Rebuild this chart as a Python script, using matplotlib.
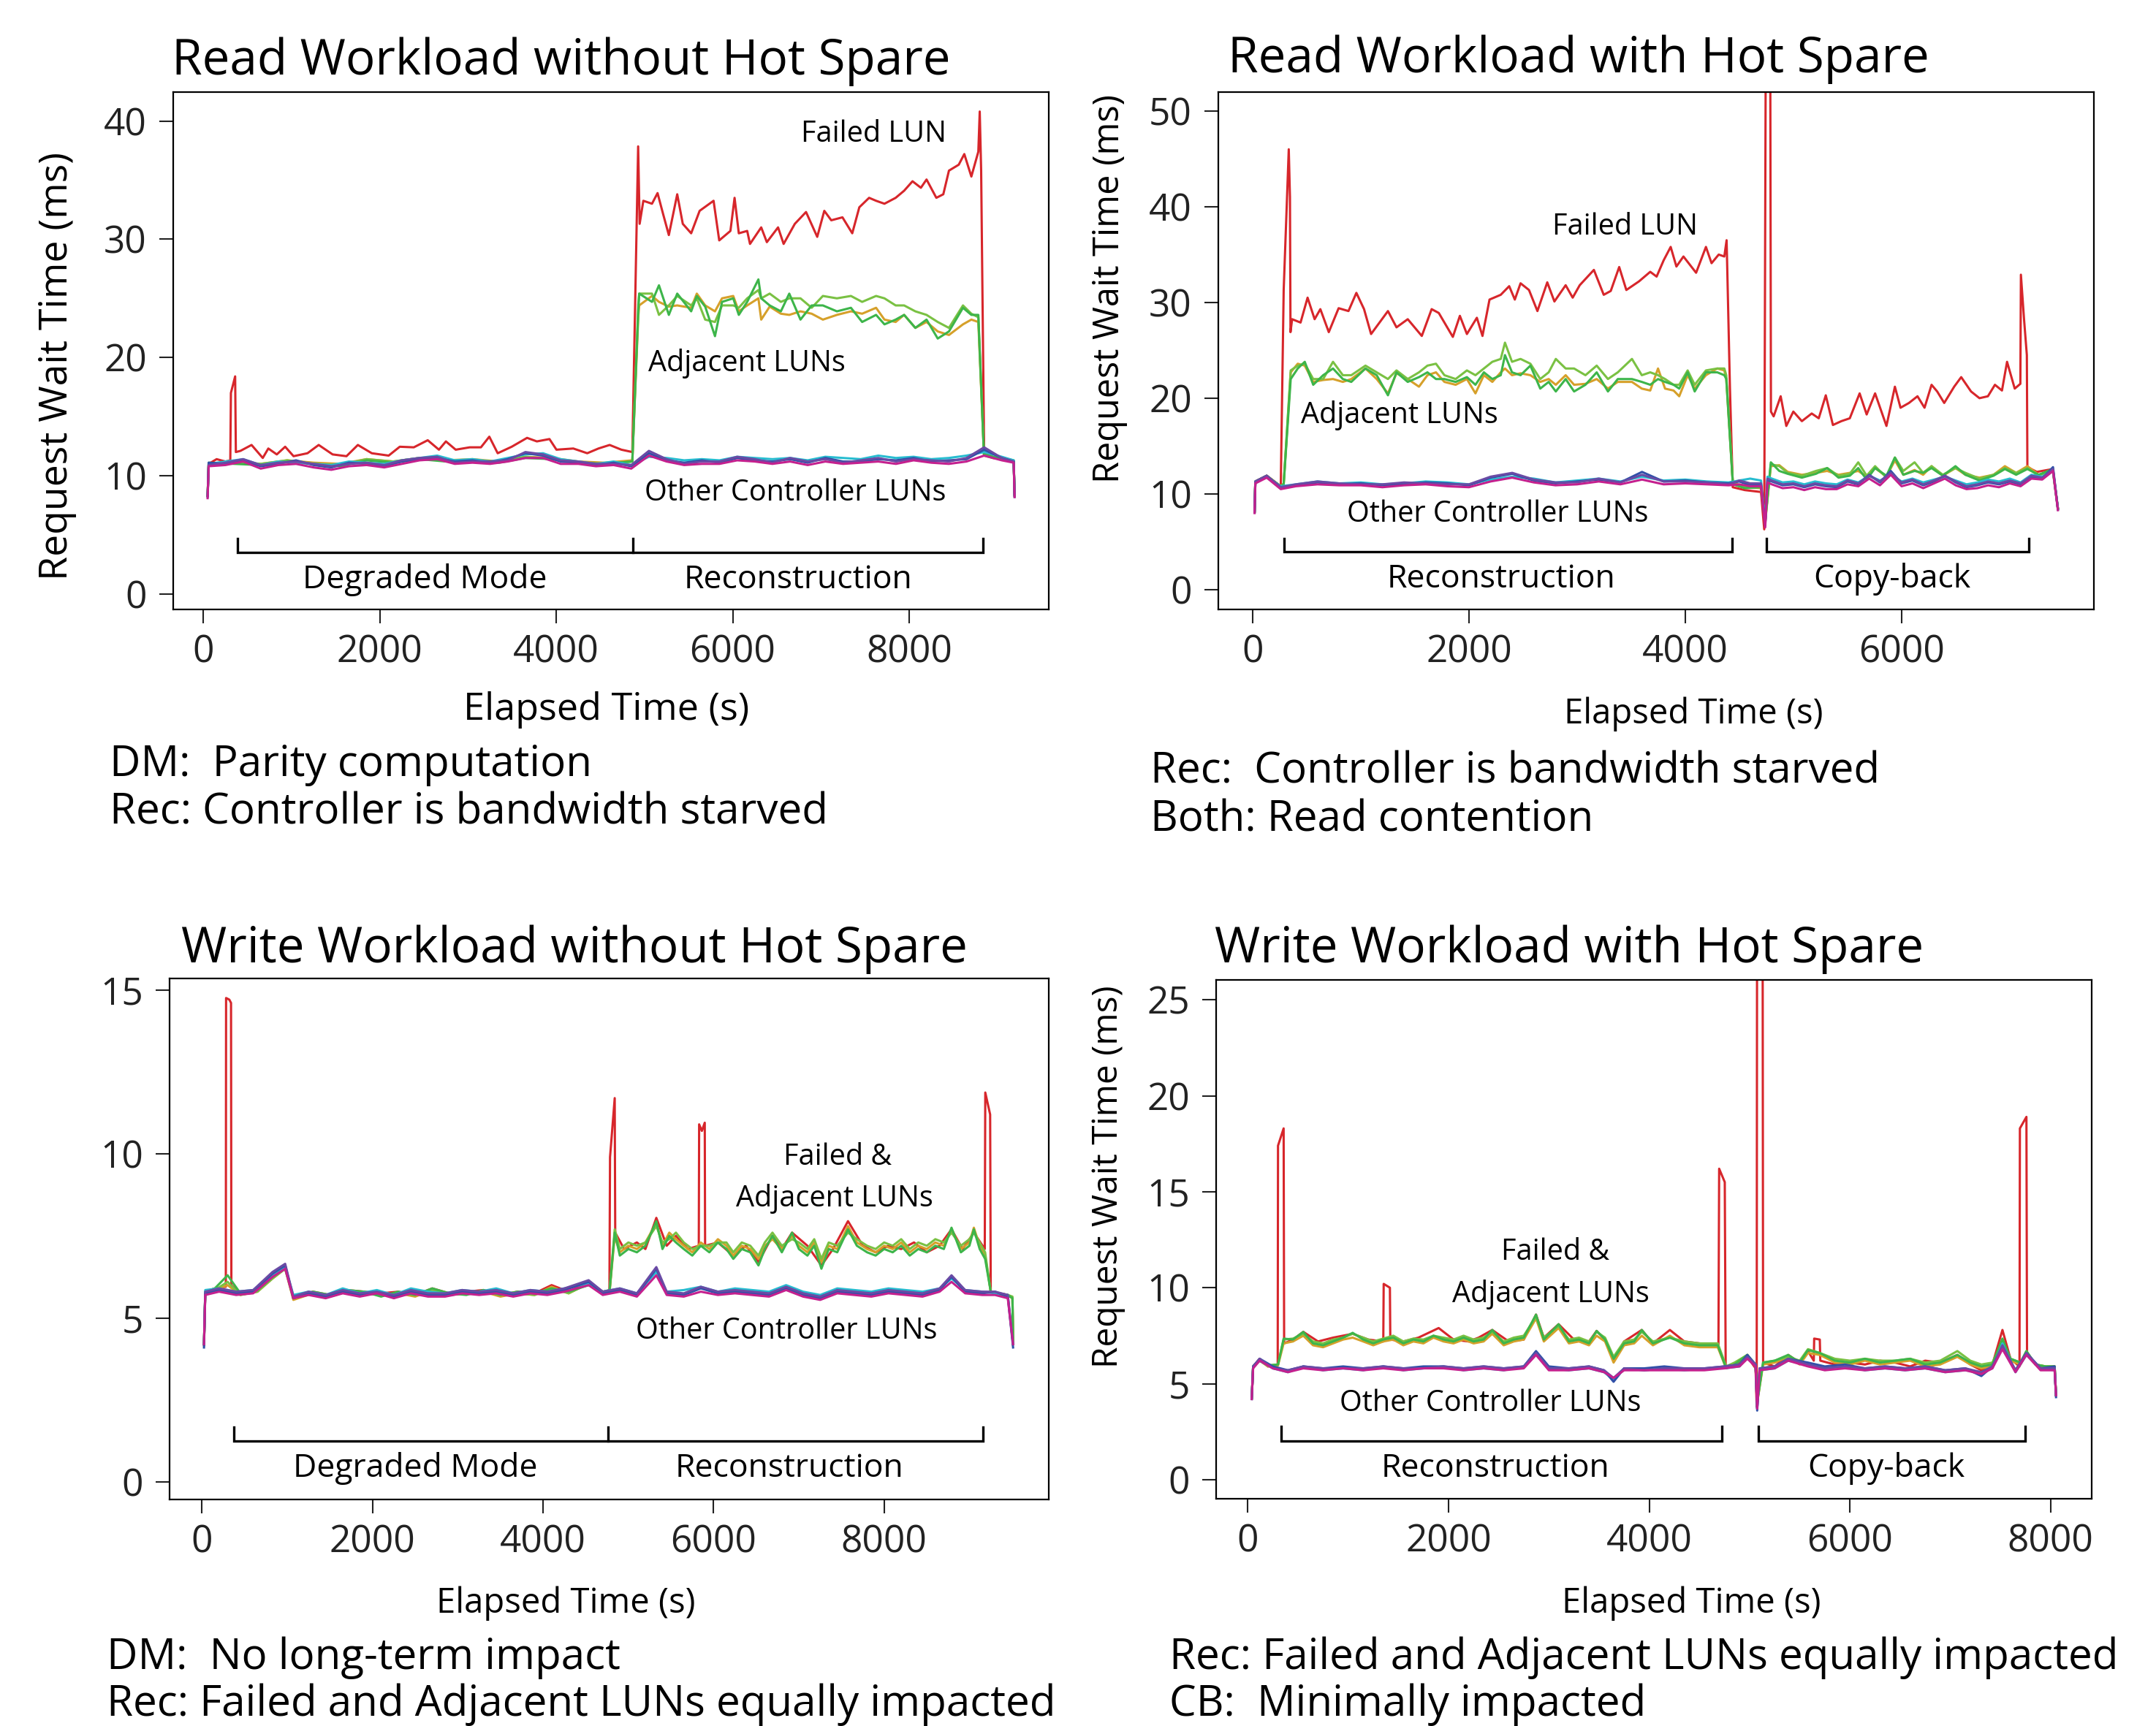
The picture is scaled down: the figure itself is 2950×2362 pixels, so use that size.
import matplotlib
matplotlib.use('Agg')
import matplotlib.pyplot as plt

plt.rcParams['font.family'] = ['Open Sans', 'DejaVu Sans']

# line colours (failed LUN, adjacent LUNs, other controller LUNs)
RED = '#d7262b'
ORANGE = '#d6a02a'
LGREEN = '#7ac143'
GREEN = '#3db54a'
CYAN = '#27bcd0'
BLUE = '#3150a8'
PURPLE = '#6a4aa5'
MAGENTA = '#c4208e'
LW = 2.2

W, H = 2950, 2362

# ---------------- Read workload without hot spare ----------------
t_fail_a = [48, 60, 150, 250, 305, 312, 360, 368, 420, 546,
            673, 736, 832, 927, 1022, 1180, 1307, 1465, 1622, 1751,
            1909, 2100, 2226, 2385, 2543, 2670, 2749, 2860, 3019, 3146,
            3241, 3336, 3495, 3669, 3780, 3923, 4002, 4193, 4351, 4478,
            4605, 4738, 4862, 4928, 4945, 4987, 5085, 5148, 5212, 5276,
            5371, 5434, 5529, 5625, 5783, 5847, 5974, 6021, 6069, 6164,
            6196, 6323, 6387, 6514, 6577, 6704, 6831, 6958, 7038, 7117,
            7244, 7355, 7435, 7546, 7625, 7720, 7847, 7943, 8038, 8133,
            8197, 8308, 8387, 8451, 8562, 8625, 8705, 8784, 8800, 8816,
            8850, 8950, 9050, 9185, 9195]
fail_a = [8.3, 11.0, 11.4, 11.2, 11.3, 17.0, 18.4, 12.0, 12.1, 12.6,
          11.5, 12.3, 11.8, 12.45, 11.65, 11.9, 12.6, 11.8, 11.65, 12.6,
          11.9, 11.7, 12.45, 12.4, 13.0, 12.2, 12.9, 12.2, 12.4, 12.4,
          13.3, 11.9, 12.45, 13.2, 12.9, 13.1, 12.2, 12.3, 11.9, 12.3,
          12.6, 12.2, 12.0, 37.85, 31.3, 33.25, 33.0, 33.9, 32.1, 30.35,
          33.8, 31.3, 30.5, 32.4, 33.25, 29.9, 30.7, 33.5, 30.5, 30.7,
          29.6, 31.0, 29.75, 31.0, 29.6, 31.3, 32.3, 30.2, 32.4, 31.6,
          31.85, 30.5, 32.7, 33.5, 33.25, 33.0, 33.5, 34.1, 34.9, 34.35,
          35.05, 33.5, 33.8, 35.8, 36.3, 37.2, 35.3, 37.4, 40.8, 35.8,
          12.0, 11.6, 11.4, 11.2, 8.4]

t_adj_a = [48, 60, 350, 650, 950, 1250, 1550, 1850, 2150, 2450,
           2750, 3050, 3350, 3650, 3950, 4250, 4550, 4862, 4930, 4940,
           5085, 5164, 5276, 5371, 5529, 5593, 5688, 5799, 5879, 6006,
           6069, 6164, 6291, 6323, 6419, 6546, 6641, 6768, 6895, 7022,
           7181, 7340, 7467, 7625, 7720, 7847, 7943, 8070, 8197, 8324,
           8451, 8610, 8705, 8784, 8848, 8950, 9050, 9185, 9195]
adj_orange_a = [8.3, 11.0, 11.2, 11.0, 11.3, 11.1, 11.0, 11.4, 11.2, 11.5,
                11.3, 11.4, 11.2, 11.6, 11.5, 11.2, 11.1, 11.3, 23.5, 24.4,
                25.2, 24.7, 24.3, 24.4, 24.2, 25.4, 24.4, 23.9, 25.0, 25.2,
                23.9, 24.4, 25.0, 23.2, 24.3, 23.7, 23.6, 23.9, 23.7, 23.2,
                23.6, 23.9, 23.7, 24.2, 23.2, 23.0, 23.6, 22.5, 23.0, 22.2,
                21.9, 22.8, 23.2, 23.0, 11.8, 11.5, 11.4, 11.2, 8.4]
adj_lgreen_a = [8.3, 11.0, 11.1, 11.0, 11.3, 11.0, 10.9, 11.4, 11.2, 11.5,
                11.3, 11.3, 11.2, 11.6, 11.4, 11.1, 11.0, 11.2, 24.5, 25.4,
                25.4, 23.6, 24.4, 25.2, 24.4, 25.0, 23.2, 23.0, 24.4, 24.4,
                24.2, 25.0, 25.7, 25.0, 25.4, 24.7, 25.0, 25.0, 24.2, 25.2,
                25.0, 25.2, 24.7, 25.2, 25.0, 24.4, 24.4, 23.9, 23.6, 23.0,
                22.5, 24.4, 23.7, 23.4, 11.7, 11.5, 11.4, 11.2, 8.4]
adj_green_a = [8.3, 11.1, 11.0, 10.9, 11.2, 11.0, 10.8, 11.3, 11.1, 11.4,
               11.2, 11.3, 11.1, 11.5, 11.4, 11.1, 11.0, 11.2, 24.0, 25.4,
               24.7, 26.1, 23.6, 25.4, 23.9, 25.2, 24.3, 21.8, 24.7, 25.0,
               23.6, 24.7, 26.6, 25.0, 24.4, 23.9, 25.4, 23.2, 24.4, 24.4,
               23.9, 24.2, 23.0, 23.6, 22.8, 23.2, 23.6, 22.5, 23.2, 21.6,
               22.2, 24.2, 23.6, 23.6, 11.8, 11.6, 11.5, 11.3, 8.3]

t_oth_a = [48, 60, 250, 450, 650, 850, 1050, 1250, 1450, 1650,
           1850, 2050, 2250, 2450, 2650, 2850, 3050, 3250, 3450, 3650,
           3850, 4050, 4250, 4450, 4650, 4850, 5050, 5250, 5450, 5650,
           5850, 6050, 6250, 6450, 6650, 6850, 7050, 7250, 7450, 7650,
           7850, 8050, 8250, 8450, 8650, 8850, 9050, 9185, 9195]
oth_cyan_a = [8.3, 11.0, 11.2, 11.4, 10.9, 11.2, 11.1, 11.0, 10.9, 11.2,
              11.1, 11.0, 11.3, 11.5, 11.7, 11.3, 11.4, 11.2, 11.5, 11.8,
              11.9, 11.4, 11.2, 11.0, 11.2, 10.9, 11.6, 11.5, 11.3, 11.4,
              11.3, 11.6, 11.5, 11.4, 11.5, 11.3, 11.6, 11.5, 11.4, 11.7,
              11.5, 11.6, 11.4, 11.5, 11.7, 12.0, 11.6, 11.3, 8.4]
oth_blue_a = [8.2, 11.1, 11.0, 11.3, 10.8, 11.0, 11.3, 10.9, 10.7, 11.1,
              11.0, 10.8, 11.2, 11.4, 11.5, 11.2, 11.3, 11.1, 11.4, 11.9,
              11.7, 11.2, 11.1, 10.9, 11.1, 10.8, 11.9, 11.3, 11.1, 11.3,
              11.1, 11.5, 11.3, 11.2, 11.4, 11.1, 11.5, 11.2, 11.2, 11.4,
              11.3, 11.5, 11.2, 11.3, 11.4, 12.2, 11.5, 11.2, 8.3]
oth_purple_a = [8.3, 10.9, 11.1, 11.4, 10.9, 11.1, 11.2, 11.0, 10.8, 11.0,
                11.1, 10.9, 11.3, 11.5, 11.6, 11.1, 11.2, 11.2, 11.3, 12.0,
                11.8, 11.3, 11.2, 11.0, 11.0, 10.9, 12.1, 11.4, 11.0, 11.2,
                11.2, 11.6, 11.4, 11.1, 11.5, 11.2, 11.4, 11.1, 11.3, 11.5,
                11.2, 11.4, 11.3, 11.2, 11.5, 12.4, 11.5, 11.2, 8.2]
oth_magenta_a = [8.1, 10.8, 10.9, 11.2, 10.6, 10.9, 11.0, 10.7, 10.5, 10.8,
                 10.9, 10.7, 11.0, 11.3, 11.4, 11.0, 11.1, 11.0, 11.2, 11.5,
                 11.5, 11.0, 11.0, 10.8, 10.9, 10.6, 11.7, 11.2, 10.9, 11.0,
                 11.0, 11.3, 11.2, 11.0, 11.2, 10.9, 11.2, 11.0, 11.1, 11.2,
                 11.0, 11.3, 11.1, 11.0, 11.2, 11.7, 11.3, 11.1, 8.2]

# ---------------- Read workload with hot spare ----------------
t_fail_b = [18, 25, 130, 260, 287, 334, 345, 350, 365, 443,
            508, 573, 626, 704, 795, 886, 959, 1030, 1095, 1173,
            1251, 1330, 1434, 1564, 1655, 1721, 1851, 1916, 1981, 2073,
            2125, 2190, 2294, 2372, 2424, 2477, 2555, 2633, 2724, 2790,
            2894, 2959, 3024, 3155, 3246, 3311, 3389, 3455, 3572, 3676,
            3735, 3800, 3865, 3918, 3983, 4100, 4191, 4243, 4309, 4361,
            4382, 4387, 4413, 4439, 4550, 4700, 4730, 4745, 4785, 4792,
            4817, 4882, 4934, 4999, 5078, 5169, 5234, 5299, 5365, 5443,
            5521, 5612, 5677, 5755, 5860, 5938, 5990, 6068, 6147, 6212,
            6277, 6329, 6394, 6486, 6551, 6642, 6720, 6798, 6863, 6928,
            6975, 7046, 7098, 7103, 7132, 7158, 7163, 7250, 7398, 7445]
fail_b = [8.1, 11.3, 11.9, 10.8, 31.3, 46.0, 41.0, 26.9, 28.25, 27.9,
          30.5, 28.25, 29.3, 26.9, 29.4, 29.1, 31.0, 29.3, 26.7, 27.9,
          29.1, 27.4, 28.25, 26.5, 29.3, 28.9, 26.4, 28.6, 26.7, 28.4,
          26.5, 30.3, 30.8, 31.7, 30.3, 32.0, 31.3, 29.1, 32.1, 30.1,
          31.8, 30.5, 31.8, 33.4, 30.8, 31.2, 33.7, 31.3, 32.2, 33.2,
          32.7, 34.4, 35.8, 33.75, 34.8, 33.1, 35.8, 34.1, 35.0, 34.8,
          36.5, 34.1, 21.0, 10.7, 10.4, 10.2, 6.3, 60.0, 60.0, 18.6,
          18.1, 20.2, 17.1, 18.6, 17.6, 18.4, 17.9, 20.3, 17.2, 17.6,
          17.9, 20.5, 18.3, 20.5, 17.1, 21.2, 19.0, 19.5, 20.2, 19.0,
          21.4, 20.7, 19.5, 21.2, 22.2, 20.7, 20.0, 20.2, 21.4, 20.8,
          23.8, 21.0, 21.5, 32.9, 28.25, 24.5, 12.8, 12.3, 12.6, 8.5]

t_adj_b = [18, 25, 130, 260, 287, 352, 417, 482, 560, 652,
           743, 834, 912, 1043, 1147, 1251, 1330, 1434, 1538, 1616,
           1695, 1773, 1877, 1981, 2060, 2138, 2216, 2294, 2333, 2398,
           2477, 2568, 2659, 2737, 2803, 2894, 2972, 3077, 3181, 3285,
           3376, 3507, 3598, 3676, 3748, 3813, 3892, 3944, 4022, 4087,
           4191, 4296, 4361, 4379, 4440, 4550, 4700, 4739, 4791, 4869,
           4947, 5078, 5208, 5312, 5417, 5521, 5599, 5677, 5755, 5860,
           5938, 6016, 6120, 6199, 6277, 6381, 6498, 6590, 6720, 6850,
           6955, 7059, 7163, 7268, 7398, 7445]
adj_orange_b = [8.1, 11.3, 11.9, 10.8, 11.0, 22.7, 23.6, 23.4, 21.7, 21.9,
                22.0, 21.7, 22.0, 23.1, 22.0, 20.5, 22.6, 22.0, 21.2, 22.4,
                22.7, 21.7, 21.4, 22.0, 20.5, 22.4, 21.7, 22.7, 23.1, 22.4,
                22.6, 22.4, 21.7, 22.0, 21.4, 22.4, 21.4, 21.5, 22.0, 21.0,
                21.7, 21.7, 21.0, 20.8, 23.1, 21.0, 20.8, 20.2, 22.4, 21.0,
                22.4, 23.1, 22.9, 22.0, 11.2, 10.7, 10.6, 7.0, 12.9, 13.0,
                12.3, 12.0, 12.2, 12.4, 12.0, 12.2, 12.4, 11.8, 12.7, 11.8,
                13.5, 12.0, 12.5, 12.0, 12.9, 11.9, 12.7, 12.0, 11.7, 12.0,
                12.9, 12.2, 12.9, 12.0, 12.4, 8.5]
adj_lgreen_b = [8.2, 11.3, 11.9, 10.8, 11.1, 22.9, 23.4, 23.6, 22.0, 22.0,
                23.8, 22.4, 22.4, 23.4, 22.7, 22.0, 22.9, 22.0, 22.7, 23.4,
                23.6, 22.4, 22.0, 22.9, 22.4, 23.1, 23.8, 24.1, 25.8, 23.8,
                24.1, 23.6, 22.0, 22.7, 24.1, 23.1, 23.1, 22.4, 23.4, 22.0,
                22.7, 24.1, 22.4, 22.7, 22.4, 22.0, 21.4, 21.4, 22.9, 21.4,
                22.9, 23.1, 23.1, 22.4, 11.1, 10.7, 10.8, 7.2, 13.1, 12.9,
                12.2, 11.9, 12.4, 12.7, 11.9, 12.1, 13.3, 11.9, 12.9, 11.7,
                13.8, 12.4, 13.3, 12.2, 12.9, 12.0, 12.7, 12.2, 11.6, 12.0,
                12.7, 12.2, 12.7, 11.9, 12.6, 8.5]
adj_green_b = [8.1, 11.2, 11.8, 10.7, 11.0, 22.0, 23.1, 23.8, 21.4, 22.4,
               23.1, 22.0, 21.7, 23.1, 22.4, 20.3, 22.7, 21.7, 22.2, 22.7,
               22.0, 22.0, 21.7, 22.2, 21.4, 22.7, 22.0, 22.4, 24.5, 22.7,
               22.4, 23.4, 21.0, 21.7, 20.7, 22.0, 20.7, 21.4, 22.7, 20.7,
               22.0, 22.0, 21.7, 21.4, 22.0, 21.7, 21.4, 21.0, 22.7, 20.7,
               22.7, 22.7, 22.4, 22.0, 11.0, 10.6, 10.7, 7.1, 13.3, 12.4,
               12.1, 11.7, 12.1, 12.7, 11.7, 11.9, 12.7, 11.5, 12.7, 11.9,
               13.8, 12.0, 12.4, 12.2, 12.7, 11.9, 12.9, 12.0, 11.4, 11.9,
               12.6, 12.0, 12.6, 12.0, 12.6, 8.4]

t_oth_b = [18, 25, 130, 260, 400, 600, 800, 1000, 1200, 1400,
           1600, 1800, 2000, 2200, 2400, 2600, 2800, 3000, 3200, 3400,
           3600, 3800, 4000, 4200, 4400, 4500, 4600, 4700, 4739, 4760,
           4800, 4900, 5000, 5100, 5200, 5300, 5400, 5500, 5600, 5700,
           5800, 5900, 6000, 6100, 6200, 6300, 6400, 6500, 6600, 6700,
           6800, 6900, 7000, 7100, 7200, 7300, 7400, 7445]
oth_cyan_b = [8.1, 11.2, 11.8, 10.8, 11.0, 11.3, 11.1, 11.2, 11.0, 11.1,
              11.3, 11.2, 11.0, 11.5, 11.8, 11.6, 11.2, 11.4, 11.6, 11.3,
              11.8, 11.4, 11.5, 11.3, 11.2, 11.4, 11.6, 11.4, 7.0, 11.8,
              11.6, 11.2, 11.3, 11.0, 11.3, 11.1, 11.0, 11.5, 11.2, 11.9,
              11.4, 12.0, 11.3, 11.6, 11.2, 11.5, 11.8, 11.4, 11.0, 11.2,
              11.5, 11.3, 11.6, 11.2, 12.0, 11.8, 12.5, 8.4]
oth_blue_b = [8.1, 11.3, 11.9, 10.7, 10.9, 11.2, 11.0, 11.1, 10.9, 11.0,
              11.2, 11.1, 10.9, 11.7, 12.1, 11.4, 11.1, 11.3, 11.5, 11.2,
              12.3, 11.3, 11.4, 11.2, 11.1, 11.3, 10.9, 11.0, 6.7, 11.5,
              11.3, 10.9, 11.0, 10.7, 11.0, 10.8, 10.7, 11.3, 11.0, 12.0,
              11.2, 12.4, 11.1, 11.4, 10.9, 11.3, 11.9, 11.2, 10.7, 10.9,
              11.2, 11.0, 11.3, 11.0, 11.8, 11.6, 12.8, 8.4]
oth_purple_b = [8.2, 11.3, 11.9, 10.7, 11.0, 11.3, 11.1, 11.0, 11.0, 11.2,
                11.1, 11.0, 11.0, 11.8, 12.2, 11.5, 11.2, 11.2, 11.6, 11.2,
                12.0, 11.3, 11.3, 11.2, 11.0, 11.4, 11.1, 11.1, 6.8, 11.6,
                11.4, 11.0, 11.1, 10.8, 11.1, 10.9, 10.8, 11.4, 11.1, 11.9,
                11.3, 12.2, 11.2, 11.5, 11.0, 11.4, 11.9, 11.3, 10.8, 11.0,
                11.3, 11.1, 11.4, 11.1, 11.9, 11.7, 12.6, 8.5]
oth_magenta_b = [8.0, 11.1, 11.7, 10.5, 10.8, 11.0, 10.9, 10.9, 10.7, 10.9,
                 11.0, 10.8, 10.7, 11.3, 11.7, 11.2, 10.9, 11.0, 11.3, 11.0,
                 11.5, 11.0, 11.1, 11.0, 10.9, 11.0, 10.8, 10.8, 6.5, 11.2,
                 11.0, 10.6, 10.7, 10.4, 10.7, 10.5, 10.5, 11.0, 10.8, 11.6,
                 10.9, 12.0, 10.8, 11.1, 10.6, 11.1, 11.6, 10.9, 10.5, 10.6,
                 10.9, 10.7, 11.1, 10.8, 11.6, 11.5, 12.4, 8.3]

# ---------------- Write workload without hot spare ----------------
t_fail_c = [23, 38, 150, 279, 282, 320, 340, 344, 450, 650,
            826, 975, 1071, 1300, 1500, 1700, 1900, 2100, 2300, 2500,
            2700, 2900, 3100, 3300, 3500, 3700, 3900, 4100, 4300, 4534,
            4700, 4778, 4785, 4840, 4846, 4950, 5100, 5200, 5328, 5450,
            5558, 5700, 5826, 5830, 5862, 5896, 5900, 6050, 6231, 6380,
            6526, 6690, 6800, 6920, 7100, 7264, 7400, 7576, 7750, 7900,
            8050, 8200, 8350, 8500, 8650, 8790, 8920, 9052, 9180, 9186,
            9243, 9250, 9350, 9450, 9505, 9512]
fail_c = [4.17, 5.8, 5.9, 5.95, 14.75, 14.7, 14.6, 6.0, 5.75, 5.85,
          6.3, 6.6, 5.6, 5.8, 5.7, 5.85, 5.8, 5.75, 5.8, 5.7,
          5.9, 5.75, 5.8, 5.85, 5.7, 5.8, 5.75, 6.0, 5.8, 6.1,
          5.8, 5.8, 9.9, 11.7, 7.6, 7.1, 7.3, 7.1, 8.05, 7.2,
          7.5, 7.1, 7.2, 10.9, 10.7, 10.95, 7.2, 7.3, 6.9, 7.2,
          6.7, 7.5, 7.1, 7.6, 7.2, 6.6, 7.1, 7.95, 7.2, 7.0,
          7.2, 7.1, 7.3, 7.0, 7.2, 7.7, 7.1, 7.6, 7.1, 11.87,
          11.2, 5.8, 5.75, 5.7, 5.6, 4.2]

t_adj_c = [23, 38, 150, 300, 450, 650, 826, 975, 1071, 1300,
           1500, 1700, 1900, 2100, 2300, 2500, 2700, 2900, 3100, 3300,
           3500, 3700, 3900, 4100, 4300, 4534, 4700, 4780, 4840, 4900,
           5000, 5100, 5200, 5328, 5400, 5480, 5558, 5650, 5750, 5850,
           5950, 6050, 6150, 6231, 6330, 6430, 6526, 6600, 6690, 6800,
           6920, 7000, 7100, 7180, 7264, 7350, 7450, 7576, 7680, 7800,
           7900, 8000, 8100, 8200, 8300, 8400, 8500, 8600, 8700, 8790,
           8900, 9000, 9052, 9120, 9184, 9250, 9350, 9450, 9505, 9512]
adj_orange_c = [4.2, 5.75, 5.85, 6.0, 5.7, 5.8, 6.2, 6.5, 5.55, 5.75,
                5.65, 5.8, 5.75, 5.7, 5.75, 5.65, 5.85, 5.7, 5.75, 5.8,
                5.65, 5.75, 5.7, 5.95, 5.75, 6.05, 5.75, 5.8, 7.5, 7.0,
                7.2, 7.1, 7.3, 7.9, 7.2, 7.6, 7.4, 7.2, 7.0, 7.3,
                7.1, 7.4, 7.2, 6.9, 7.2, 7.1, 6.8, 7.2, 7.4, 7.1,
                7.5, 7.2, 7.0, 7.3, 6.7, 7.2, 7.1, 7.8, 7.3, 7.1,
                7.0, 7.2, 7.1, 7.3, 7.0, 7.2, 7.1, 7.3, 7.2, 7.7,
                7.1, 7.3, 7.75, 7.2, 6.9, 5.8, 5.75, 5.7, 5.6, 4.2]
adj_lgreen_c = [4.2, 5.8, 5.85, 6.1, 5.7, 5.8, 6.2, 6.5, 5.6, 5.75,
                5.7, 5.8, 5.8, 5.7, 5.75, 5.7, 5.85, 5.7, 5.75, 5.8,
                5.7, 5.75, 5.7, 5.9, 5.75, 6.05, 5.75, 5.8, 7.7, 7.1,
                7.3, 7.2, 7.3, 7.8, 7.3, 7.4, 7.6, 7.3, 7.1, 7.2,
                7.2, 7.3, 7.3, 7.0, 7.3, 7.2, 6.9, 7.3, 7.6, 7.2,
                7.4, 7.3, 7.1, 7.4, 6.8, 7.3, 7.2, 7.6, 7.4, 7.2,
                7.1, 7.3, 7.2, 7.4, 7.1, 7.3, 7.2, 7.4, 7.3, 7.6,
                7.2, 7.4, 7.6, 7.3, 7.0, 5.8, 5.75, 5.7, 5.65, 4.2]
adj_green_c = [4.2, 5.8, 5.9, 6.3, 5.75, 5.85, 6.25, 6.55, 5.6, 5.8,
               5.7, 5.85, 5.8, 5.65, 5.8, 5.7, 5.9, 5.75, 5.7, 5.85,
               5.7, 5.8, 5.75, 5.9, 5.8, 6.0, 5.8, 5.85, 7.6, 6.9,
               7.1, 7.0, 7.2, 7.95, 7.1, 7.5, 7.3, 7.1, 6.9, 7.2,
               7.0, 7.3, 7.1, 6.8, 7.1, 7.0, 6.6, 7.1, 7.5, 7.0,
               7.6, 7.1, 6.9, 7.2, 6.5, 7.1, 7.0, 7.7, 7.2, 7.0,
               6.9, 7.1, 7.0, 7.2, 6.9, 7.1, 7.0, 7.2, 7.1, 7.75,
               7.0, 7.2, 7.7, 7.1, 6.8, 5.8, 5.7, 5.7, 5.6, 4.2]

t_oth_c = [23, 38, 200, 400, 600, 826, 975, 1071, 1250, 1450,
           1650, 1850, 2050, 2250, 2450, 2650, 2850, 3050, 3250, 3450,
           3650, 3850, 4050, 4250, 4534, 4700, 4900, 5100, 5328, 5450,
           5650, 5850, 6050, 6250, 6450, 6650, 6850, 7050, 7250, 7450,
           7650, 7850, 8050, 8250, 8450, 8650, 8790, 8950, 9150, 9300,
           9450, 9512]
oth_cyan_c = [4.2, 5.85, 5.9, 5.8, 5.85, 6.3, 6.55, 5.7, 5.8, 5.7,
              5.9, 5.75, 5.85, 5.7, 5.9, 5.8, 5.75, 5.85, 5.8, 5.9,
              5.75, 5.85, 5.8, 5.9, 6.05, 5.8, 5.9, 5.75, 6.4, 5.8,
              5.85, 5.95, 5.8, 5.9, 5.85, 5.8, 6.0, 5.8, 5.7, 5.9,
              5.85, 5.8, 5.9, 5.85, 5.8, 5.9, 6.2, 5.85, 5.8, 5.75,
              5.7, 4.2]
oth_blue_c = [4.1, 5.75, 5.85, 5.75, 5.8, 6.35, 6.6, 5.6, 5.75, 5.65,
              5.8, 5.7, 5.75, 5.65, 5.8, 5.7, 5.7, 5.8, 5.75, 5.8,
              5.7, 5.8, 5.75, 5.85, 6.1, 5.75, 5.85, 5.7, 6.5, 5.75,
              5.7, 5.9, 5.75, 5.8, 5.75, 5.7, 5.9, 5.7, 5.6, 5.8,
              5.75, 5.7, 5.8, 5.75, 5.7, 5.85, 6.25, 5.8, 5.75, 5.8,
              5.65, 4.1]
oth_purple_c = [4.2, 5.8, 5.9, 5.8, 5.85, 6.4, 6.65, 5.65, 5.8, 5.7,
                5.85, 5.75, 5.8, 5.7, 5.85, 5.75, 5.75, 5.85, 5.8, 5.85,
                5.75, 5.85, 5.8, 5.9, 6.15, 5.8, 5.9, 5.75, 6.55, 5.8,
                5.75, 5.95, 5.8, 5.85, 5.8, 5.75, 5.95, 5.75, 5.65, 5.85,
                5.8, 5.75, 5.85, 5.8, 5.75, 5.9, 6.3, 5.85, 5.8, 5.8,
                5.7, 4.2]
oth_magenta_c = [4.2, 5.7, 5.8, 5.7, 5.75, 6.25, 6.5, 5.6, 5.7, 5.6,
                 5.75, 5.65, 5.75, 5.6, 5.75, 5.65, 5.65, 5.75, 5.7, 5.75,
                 5.65, 5.75, 5.7, 5.8, 6.0, 5.7, 5.8, 5.65, 6.3, 5.7,
                 5.65, 5.8, 5.7, 5.75, 5.7, 5.65, 5.85, 5.65, 5.55, 5.75,
                 5.7, 5.65, 5.75, 5.7, 5.65, 5.8, 6.1, 5.75, 5.7, 5.7,
                 5.6, 4.2]

# ---------------- Write workload with hot spare ----------------
t_fail_d = [39, 53, 118, 200, 298, 301, 357, 362, 450, 553,
            700, 850, 1045, 1200, 1350, 1354, 1416, 1420, 1550, 1700,
            1902, 2050, 2200, 2300, 2436, 2600, 2750, 2872, 2950, 3097,
            3250, 3400, 3476, 3560, 3645, 3750, 3926, 4037, 4206, 4350,
            4500, 4690, 4697, 4753, 4762, 4850, 4978, 5060, 5071, 5075,
            5130, 5135, 5250, 5385, 5500, 5582, 5640, 5644, 5700, 5705,
            5850, 6000, 6150, 6300, 6450, 6600, 6750, 6900, 7071, 7200,
            7310, 7420, 7520, 7600, 7690, 7694, 7759, 7765, 7850, 7950,
            8040, 8054]
fail_d = [4.24, 5.9, 6.3, 5.9, 6.0, 17.4, 18.3, 7.1, 7.3, 7.7,
          7.2, 7.4, 7.6, 7.3, 7.2, 10.2, 10.0, 7.3, 7.2, 7.4,
          7.9, 7.3, 7.2, 7.4, 7.8, 7.2, 7.3, 8.6, 7.4, 8.1,
          7.3, 7.2, 7.75, 7.3, 6.2, 7.2, 7.8, 7.1, 7.8, 7.2,
          7.1, 7.0, 16.2, 15.5, 5.9, 5.9, 6.4, 5.8, 3.8, 30.0,
          30.0, 6.1, 5.9, 6.5, 6.1, 6.7, 6.2, 7.35, 7.3, 6.2,
          6.0, 6.1, 6.0, 6.2, 6.1, 5.9, 6.2, 6.1, 6.5, 6.0,
          5.7, 6.0, 7.8, 6.3, 5.9, 18.3, 18.9, 6.6, 6.0, 5.8,
          5.9, 4.4]

t_adj_d = [39, 53, 118, 200, 301, 357, 450, 553, 650, 750,
           850, 950, 1045, 1150, 1250, 1350, 1450, 1550, 1650, 1750,
           1850, 1950, 2050, 2150, 2250, 2350, 2436, 2550, 2650, 2750,
           2872, 2950, 3097, 3200, 3300, 3400, 3476, 3560, 3645, 3750,
           3850, 3926, 4037, 4206, 4350, 4500, 4683, 4767, 4850, 4978,
           5060, 5076, 5135, 5250, 5385, 5500, 5582, 5700, 5850, 6000,
           6150, 6300, 6450, 6600, 6750, 6900, 7071, 7200, 7310, 7420,
           7520, 7600, 7700, 7759, 7850, 7950, 8040, 8054]
adj_orange_d = [4.24, 5.9, 6.2, 5.9, 5.95, 7.1, 7.2, 7.5, 7.0, 6.9,
                7.1, 7.3, 7.4, 7.2, 7.0, 7.2, 7.3, 7.0, 7.2, 7.1,
                7.4, 7.2, 7.1, 7.3, 7.1, 7.2, 7.6, 7.0, 7.2, 7.3,
                8.4, 7.2, 7.9, 7.1, 7.2, 7.0, 7.5, 7.2, 6.1, 7.0,
                7.1, 7.5, 7.0, 7.5, 7.0, 6.9, 6.9, 5.8, 6.0, 6.5,
                5.9, 4.0, 6.0, 6.1, 6.4, 6.0, 6.6, 6.5, 6.1, 6.0,
                6.2, 6.0, 6.1, 6.2, 5.9, 6.0, 6.4, 6.0, 5.8, 5.9,
                7.3, 6.2, 6.0, 6.6, 6.0, 5.9, 5.9, 4.4]
adj_lgreen_d = [4.24, 5.9, 6.25, 5.95, 6.0, 7.3, 7.35, 7.6, 7.2, 7.1,
                7.3, 7.4, 7.6, 7.4, 7.2, 7.35, 7.5, 7.2, 7.35, 7.3,
                7.5, 7.4, 7.3, 7.5, 7.3, 7.4, 7.7, 7.2, 7.4, 7.5,
                8.5, 7.4, 8.0, 7.3, 7.4, 7.2, 7.7, 7.4, 6.4, 7.2,
                7.3, 7.7, 7.2, 7.4, 7.2, 7.1, 7.1, 5.9, 6.1, 6.5,
                6.0, 4.1, 6.1, 6.2, 6.4, 6.2, 6.8, 6.6, 6.3, 6.2,
                6.3, 6.2, 6.2, 6.3, 6.1, 6.2, 6.7, 6.2, 6.0, 6.1,
                7.2, 6.3, 6.1, 6.7, 6.0, 5.9, 5.9, 4.4]
adj_green_d = [4.24, 5.9, 6.2, 5.95, 6.0, 7.35, 7.3, 7.7, 7.1, 7.0,
               7.2, 7.4, 7.65, 7.3, 7.1, 7.3, 7.4, 7.1, 7.3, 7.2,
               7.5, 7.3, 7.2, 7.4, 7.2, 7.3, 7.8, 7.1, 7.3, 7.4,
               8.6, 7.3, 8.1, 7.2, 7.3, 7.1, 7.75, 7.3, 6.3, 7.1,
               7.2, 7.8, 7.1, 7.4, 7.1, 7.0, 7.0, 5.8, 6.0, 6.5,
               5.9, 4.0, 6.1, 6.2, 6.5, 6.1, 6.75, 6.6, 6.2, 6.1,
               6.3, 6.1, 6.2, 6.3, 6.0, 6.1, 6.5, 6.1, 5.9, 6.0,
               7.35, 6.3, 6.1, 6.7, 6.0, 5.9, 5.9, 4.4]

t_oth_d = [39, 53, 118, 250, 400, 553, 750, 950, 1150, 1350,
           1550, 1750, 1950, 2150, 2350, 2550, 2750, 2872, 3000, 3200,
           3400, 3550, 3645, 3750, 3950, 4150, 4350, 4550, 4750, 4900,
           4978, 5060, 5076, 5100, 5250, 5385, 5582, 5750, 5950, 6150,
           6350, 6550, 6750, 6950, 7150, 7310, 7420, 7520, 7650, 7759,
           7900, 8040, 8054]
oth_cyan_d = [4.24, 5.9, 6.2, 5.8, 5.6, 5.9, 5.7, 5.8, 5.7, 5.9,
              5.7, 5.8, 5.9, 5.7, 5.8, 5.7, 5.9, 6.6, 5.8, 5.7,
              5.8, 5.6, 5.2, 5.8, 5.7, 5.8, 5.7, 5.8, 5.8, 5.9,
              6.4, 6.0, 3.7, 5.7, 5.8, 6.2, 6.0, 5.8, 5.9, 5.7,
              5.8, 5.7, 5.8, 5.6, 5.7, 5.6, 5.8, 7.1, 5.6, 6.5,
              5.8, 5.7, 4.4]
oth_blue_d = [4.2, 5.9, 6.3, 5.9, 5.7, 5.9, 5.8, 5.9, 5.8, 5.9,
              5.8, 5.9, 5.9, 5.8, 5.9, 5.8, 5.9, 6.7, 5.9, 5.8,
              5.9, 5.7, 5.1, 5.8, 5.8, 5.9, 5.8, 5.8, 5.9, 6.0,
              6.5, 6.0, 3.6, 5.8, 5.9, 6.3, 6.1, 5.9, 6.0, 5.8,
              5.9, 5.8, 5.9, 5.7, 5.8, 5.4, 5.9, 6.9, 5.7, 6.6,
              5.8, 5.9, 4.3]
oth_purple_d = [4.2, 5.9, 6.3, 5.8, 5.7, 5.9, 5.8, 5.8, 5.8, 5.9,
                5.8, 5.8, 5.9, 5.8, 5.9, 5.8, 5.9, 6.6, 5.8, 5.8,
                5.9, 5.7, 5.3, 5.8, 5.7, 5.8, 5.8, 5.8, 5.9, 6.0,
                6.4, 6.0, 3.7, 5.8, 5.9, 6.3, 6.0, 5.8, 5.9, 5.8,
                5.9, 5.8, 5.9, 5.7, 5.8, 5.6, 5.9, 7.0, 5.7, 6.6,
                5.8, 5.8, 4.4]
oth_magenta_d = [4.2, 5.8, 6.2, 5.8, 5.6, 5.8, 5.7, 5.8, 5.7, 5.8,
                 5.7, 5.8, 5.8, 5.7, 5.8, 5.7, 5.8, 6.5, 5.7, 5.7,
                 5.8, 5.6, 5.3, 5.7, 5.7, 5.7, 5.7, 5.7, 5.8, 5.9,
                 6.3, 5.9, 3.7, 5.7, 5.8, 6.2, 5.9, 5.7, 5.8, 5.7,
                 5.8, 5.7, 5.8, 5.6, 5.7, 5.5, 5.8, 6.8, 5.6, 6.5,
                 5.7, 5.7, 4.4]


def fig_pos(px, py):
    # pixel position in the 2950x2362 picture -> figure fraction
    return px / W, 1 - py / H


def draw_panel(fig, rect, t_fail, fail, t_adj, adj, t_oth, oth,
               xlim, ylim, yticks):
    ax = fig.add_axes(rect)
    ax.plot(t_fail, fail, color=RED, lw=LW)
    for vals, col in zip(adj, [ORANGE, LGREEN, GREEN]):
        ax.plot(t_adj, vals, color=col, lw=LW)
    for vals, col in zip(oth, [CYAN, BLUE, PURPLE, MAGENTA]):
        ax.plot(t_oth, vals, color=col, lw=LW)
    ax.set_xlim(xlim)
    ax.set_ylim(ylim)
    ax.set_xticks([x for x in range(0, 10000, 2000) if x < xlim[1]])
    ax.set_yticks(yticks)
    ax.tick_params(length=14, width=1.5, labelsize=37, colors='#222222')
    ax.tick_params(axis='x', pad=10)
    ax.tick_params(axis='y', pad=12)
    for s in ax.spines.values():
        s.set_linewidth(1.6)
    return ax


def bracket(ax, x0, x1, y_line, y_top, mids=()):
    ax.plot([x0, x0, x1, x1], [y_top, y_line, y_line, y_top],
            color='black', lw=2.4, solid_joinstyle='miter')
    for m in mids:
        ax.plot([m, m], [y_line, y_top], color='black', lw=2.4)


def main():
    fig = plt.figure(figsize=(29.5, 23.62), dpi=100)

    # top left
    ax = draw_panel(fig, [0.0803, 0.6467, 0.4060, 0.2998],
                    t_fail_a, fail_a, t_adj_a,
                    [adj_orange_a, adj_lgreen_a, adj_green_a],
                    t_oth_a, [oth_cyan_a, oth_blue_a, oth_purple_a, oth_magenta_a],
                    (-343, 9579), (-1.34, 42.42), [0, 10, 20, 30, 40])
    bracket(ax, 388, 8835, 3.52, 4.69, mids=[4865])
    ax.text(2512, 0.51, 'Degraded Mode', fontsize=32, ha='center')
    ax.text(6742, 0.51, 'Reconstruction', fontsize=32, ha='center')
    ax.text(7600, 38.27, 'Failed LUN', fontsize=28.5, ha='center')
    ax.text(5040, 18.82, 'Adjacent LUNs', fontsize=28.5, ha='left')
    ax.text(6707, 7.9, 'Other Controller LUNs', fontsize=28.5, ha='center')

    # top right
    ax = draw_panel(fig, [0.5651, 0.6470, 0.4061, 0.2998],
                    t_fail_b, fail_b, t_adj_b,
                    [adj_orange_b, adj_lgreen_b, adj_green_b],
                    t_oth_b, [oth_cyan_b, oth_blue_b, oth_purple_b, oth_magenta_b],
                    (-317, 7778), (-2.05, 52.0), [0, 10, 20, 30, 40, 50])
    bracket(ax, 292, 4434, 3.98, 5.35)
    bracket(ax, 4753, 7176, 3.98, 5.35)
    ax.text(2301, 0.19, 'Reconstruction', fontsize=32, ha='center')
    ax.text(5912, 0.19, 'Copy-back', fontsize=32, ha='center')
    ax.text(3443, 37.1, 'Failed LUN', fontsize=28.5, ha='center')
    ax.text(443, 17.4, 'Adjacent LUNs', fontsize=28.5, ha='left')
    ax.text(2262, 7.07, 'Other Controller LUNs', fontsize=28.5, ha='center')

    # bottom left
    ax = draw_panel(fig, [0.0786, 0.1311, 0.4077, 0.3019],
                    t_fail_c, fail_c, t_adj_c,
                    [adj_orange_c, adj_lgreen_c, adj_green_c],
                    t_oth_c, [oth_cyan_c, oth_blue_c, oth_purple_c, oth_magenta_c],
                    (-382, 9927), (-0.54, 15.34), [0, 5, 10, 15])
    bracket(ax, 377, 9157, 1.25, 1.68, mids=[4764])
    ax.text(2500, 0.16, 'Degraded Mode', fontsize=32, ha='center')
    ax.text(6886, 0.16, 'Reconstruction', fontsize=32, ha='center')
    ax.text(7457, 9.67, 'Failed &', fontsize=28.5, ha='center')
    ax.text(7416, 8.4, 'Adjacent LUNs', fontsize=28.5, ha='center')
    ax.text(6854, 4.37, 'Other Controller LUNs', fontsize=28.5, ha='center')

    # bottom right
    ax = draw_panel(fig, [0.5641, 0.1317, 0.4061, 0.3004],
                    t_fail_d, fail_d, t_adj_d,
                    [adj_orange_d, adj_lgreen_d, adj_green_d],
                    t_oth_d, [oth_cyan_d, oth_blue_d, oth_purple_d, oth_magenta_d],
                    (-315, 8410), (-0.99, 26.02), [0, 5, 10, 15, 20, 25])
    bracket(ax, 329, 4727, 2.02, 2.76)
    bracket(ax, 5087, 7747, 2.02, 2.76)
    ax.text(2465, 0.16, 'Reconstruction', fontsize=32, ha='center')
    ax.text(6361, 0.16, 'Copy-back', fontsize=32, ha='center')
    ax.text(3066, 11.46, 'Failed &', fontsize=28.5, ha='center')
    ax.text(3019, 9.26, 'Adjacent LUNs', fontsize=28.5, ha='center')
    ax.text(2415, 3.58, 'Other Controller LUNs', fontsize=28.5, ha='center')

    # titles
    fig.text(*fig_pos(768, 101.7), 'Read Workload without Hot Spare',
             fontsize=48.5, ha='center', va='baseline')
    fig.text(*fig_pos(2160, 99.4), 'Read Workload with Hot Spare',
             fontsize=48.5, ha='center', va='baseline')
    fig.text(*fig_pos(786, 1316.6), 'Write Workload without Hot Spare',
             fontsize=48.5, ha='center', va='baseline')
    fig.text(*fig_pos(2147, 1316.6), 'Write Workload with Hot Spare',
             fontsize=48.5, ha='center', va='baseline')

    # axis labels
    fig.text(*fig_pos(830, 985), 'Elapsed Time (s)', fontsize=37.5,
             ha='center', va='baseline')
    fig.text(*fig_pos(2317, 990), 'Elapsed Time (s)', fontsize=34,
             ha='center', va='baseline')
    fig.text(*fig_pos(774, 2207), 'Elapsed Time (s)', fontsize=34,
             ha='center', va='baseline')
    fig.text(*fig_pos(2314, 2207), 'Elapsed Time (s)', fontsize=34,
             ha='center', va='baseline')
    fig.text(*fig_pos(78, 501), 'Request Wait Time (ms)', fontsize=38.5,
             rotation=90, ha='center', va='center')
    fig.text(*fig_pos(1518, 395), 'Request Wait Time (ms)', fontsize=35,
             rotation=90, ha='center', va='center')
    fig.text(*fig_pos(1516, 1610), 'Request Wait Time (ms)', fontsize=34.5,
             rotation=90, ha='center', va='center')

    # notes under each panel
    notes = [
        (150, 1062, 1128, 'DM:  Parity computation', 'Rec: Controller is bandwidth starved'),
        (1574, 1071, 1137, 'Rec:  Controller is bandwidth starved', 'Both: Read contention'),
        (146, 2284, 2348, 'DM:  No long-term impact', 'Rec: Failed and Adjacent LUNs equally impacted'),
        (1600, 2284, 2348, 'Rec: Failed and Adjacent LUNs equally impacted', 'CB:  Minimally impacted'),
    ]
    for x, y1, y2, line1, line2 in notes:
        fig.text(*fig_pos(x, y1), line1, fontsize=42, ha='left', va='baseline')
        fig.text(*fig_pos(x, y2), line2, fontsize=42, ha='left', va='baseline')

    fig.savefig('out.png', dpi=100)


main()
